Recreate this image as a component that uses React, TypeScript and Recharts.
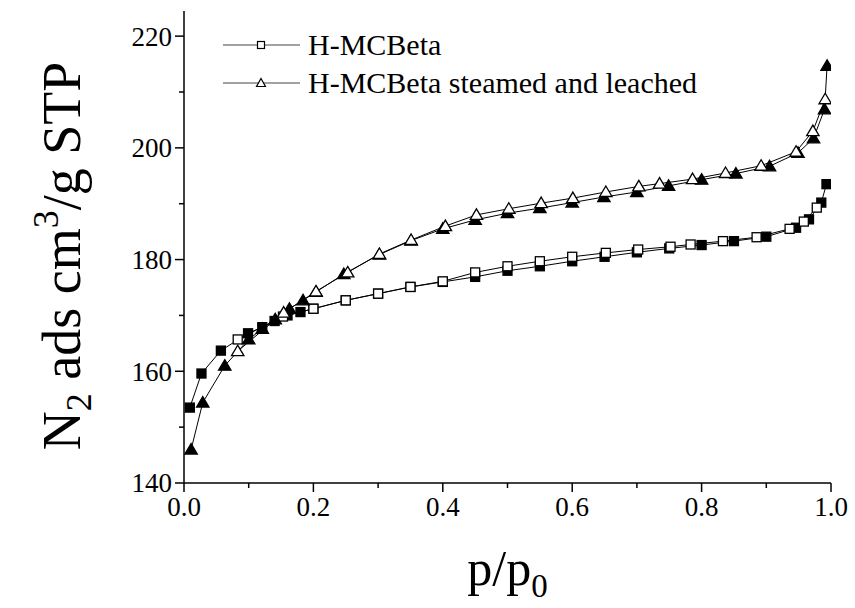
import React from "react";
import { LineChart, Line, XAxis, YAxis, Legend, Label } from "recharts";

const FONT = "'Liberation Serif', 'Times New Roman', serif";

// H-MCBeta, adsorption branch (filled squares)
const hAdsP = [0.009, 0.027, 0.057, 0.099, 0.121, 0.14, 0.16, 0.18, 0.2, 0.25, 0.3, 0.35, 0.4, 0.45, 0.5, 0.55, 0.6, 0.65, 0.7, 0.75, 0.8, 0.85, 0.9, 0.946, 0.966, 0.985, 0.993];
const hAdsV = [153.5, 159.6, 163.7, 166.8, 167.9, 169.0, 170.0, 170.6, 171.2, 172.7, 173.9, 175.1, 176.0, 176.9, 178.0, 178.8, 179.7, 180.5, 181.3, 182.0, 182.6, 183.3, 184.1, 185.7, 187.2, 190.2, 193.5];

// H-MCBeta, desorption branch (open squares)
const hDesP = [0.083, 0.153, 0.2, 0.25, 0.3, 0.35, 0.4, 0.45, 0.5, 0.55, 0.6, 0.652, 0.702, 0.752, 0.783, 0.833, 0.885, 0.936, 0.958, 0.978];
const hDesV = [165.7, 169.8, 171.2, 172.7, 173.9, 175.1, 176.1, 177.7, 178.8, 179.7, 180.5, 181.2, 181.8, 182.3, 182.7, 183.3, 184.0, 185.5, 186.8, 189.3];

// steamed and leached, adsorption (filled triangles)
const sAdsP = [0.011, 0.029, 0.063, 0.1, 0.121, 0.141, 0.163, 0.184, 0.204, 0.247, 0.302, 0.351, 0.4, 0.45, 0.5, 0.55, 0.6, 0.649, 0.7, 0.749, 0.8, 0.853, 0.905, 0.949, 0.973, 0.99, 0.994];
const sAdsV = [146.0, 154.4, 161.0, 165.7, 167.6, 169.3, 171.2, 172.7, 174.2, 177.4, 180.9, 183.4, 185.5, 187.1, 188.3, 189.2, 190.2, 191.2, 192.1, 193.2, 194.3, 195.4, 196.7, 199.1, 201.7, 206.9, 214.7];

// steamed and leached, desorption (open triangles)
const sDesP = [0.083, 0.154, 0.204, 0.253, 0.302, 0.351, 0.404, 0.452, 0.502, 0.552, 0.601, 0.652, 0.703, 0.735, 0.786, 0.837, 0.892, 0.946, 0.972, 0.991];
const sDesV = [163.6, 170.5, 174.3, 177.7, 181.0, 183.5, 186.0, 188.0, 189.1, 190.1, 191.0, 192.1, 193.1, 193.6, 194.4, 195.5, 196.8, 199.3, 203.0, 208.7];

const names = ["H-MCBeta", "H-MCBeta steamed and leached"];
const xTicks = [0, 0.1, 0.2, 0.3, 0.4, 0.5, 0.6, 0.7, 0.8, 0.9, 1.0];
const yTicks = [140, 150, 160, 170, 180, 190, 200, 210, 220];

const toPoints = (p: number[], v: number[]) => p.map((x, i) => ({ p: x, v: v[i] }));

const square = (filled: boolean) => (props: any) => {
  const { cx, cy, key } = props;
  if (cx == null || cy == null) return <g key={key} />;
  return (
    <rect key={key} x={cx - 4.5} y={cy - 4.5} width={9} height={9}
      fill={filled ? "#000" : "#fff"} stroke="#000" strokeWidth={1.3} />
  );
};

const triangle = (filled: boolean) => (props: any) => {
  const { cx, cy, key } = props;
  if (cx == null || cy == null) return <g key={key} />;
  return (
    <polygon key={key} points={`${cx},${cy - 6} ${cx + 6.2},${cy + 4.5} ${cx - 6.2},${cy + 4.5}`}
      fill={filled ? "#000" : "#fff"} stroke="#000" strokeWidth={1.3} strokeLinejoin="miter" />
  );
};

const isMajorX = (v: number) => Math.round(v * 10) % 2 === 0;

const BottomTick = (props: any) => {
  const { x, y, payload } = props;
  const major = isMajorX(payload.value);
  return (
    <g>
      <line x1={x} x2={x} y1={y} y2={y + (major ? 9 : 5)} stroke="#000" strokeWidth={1.5} />
      {major && (
        <text x={x} y={y + 33} textAnchor="middle" fontSize={27} fontFamily={FONT} fill="#000">
          {payload.value.toFixed(1)}
        </text>
      )}
    </g>
  );
};

const TopTick = (props: any) => {
  const { x, y, payload } = props;
  const major = isMajorX(payload.value);
  return <line x1={x} x2={x} y1={y} y2={y + (major ? 8 : 5)} stroke="#000" strokeWidth={1.5} />;
};

const LeftTick = (props: any) => {
  const { x, y, payload } = props;
  const major = payload.value % 20 === 0;
  return (
    <g>
      <line x1={x} x2={x - (major ? 9 : 5)} y1={y} y2={y} stroke="#000" strokeWidth={1.5} />
      {major && (
        <text x={x - 12} y={y} dy="0.35em" textAnchor="end" fontSize={27} fontFamily={FONT} fill="#000">
          {payload.value}
        </text>
      )}
    </g>
  );
};

const RightTick = (props: any) => {
  const { x, y, payload } = props;
  const major = payload.value % 20 === 0;
  return <line x1={x} x2={x - (major ? 8 : 5)} y1={y} y2={y} stroke="#000" strokeWidth={1.5} />;
};

const YTitle = (props: any) => {
  const { x, y, height } = props.viewBox;
  const tx = x - 44;
  const ty = y + height / 2 + 9;
  return (
    <text x={tx} y={ty} transform={`rotate(-90 ${tx} ${ty})`} textAnchor="middle"
      fontSize={54} fontFamily={FONT} fill="#000">
      N<tspan fontSize={36} dy={11}>2</tspan>
      <tspan dy={-11}> ads cm</tspan>
      <tspan fontSize={36} dy={-22}>3</tspan>
      <tspan dy={22}>/g STP</tspan>
    </text>
  );
};

const XTitle = (props: any) => {
  const { x, y, width } = props.viewBox;
  return (
    <text x={x + width / 2} y={y + 102} textAnchor="middle" fontSize={50} fontFamily={FONT} fill="#000">
      p/p<tspan fontSize={33} dy={12}>0</tspan>
    </text>
  );
};

const LegendBox = (props: any) => {
  const items = (props.payload || []).filter((e: any) => e.type !== "none");
  return (
    <div style={{ fontFamily: FONT, fontSize: 30, color: "#000" }}>
      {items.map((e: any, i: number) => (
        <div key={e.value} style={{ display: "flex", alignItems: "center", height: 38, whiteSpace: "nowrap" }}>
          <svg width={78} height={20} style={{ marginRight: 7 }}>
            <line x1={0} x2={77} y1={10} y2={10} stroke="#444" strokeWidth={1} />
            {i === 0 ? (
              <rect x={34.5} y={6.5} width={7} height={7} fill="#fff" stroke="#000" strokeWidth={1.2} />
            ) : (
              <polygon points="38,5.5 42.5,13.5 33.5,13.5" fill="#fff" stroke="#000" strokeWidth={1.2} />
            )}
          </svg>
          <span style={{ lineHeight: 1 }}>{e.value}</span>
        </div>
      ))}
    </div>
  );
};

export default function App() {
  return (
    <div style={{ position: "absolute", left: 0, top: 0, background: "#fff" }}>
      <LineChart width={855} height={608} margin={{ top: 11, right: 24, bottom: 85, left: 124 }}>
        <XAxis dataKey="p" type="number" domain={[0, 1]} ticks={xTicks} interval={0}
          height={40} tickSize={0} tickMargin={0} tickLine={false}
          axisLine={{ stroke: "#000", strokeWidth: 1.5 }} tick={<BottomTick />} allowDataOverflow>
          <Label content={<XTitle />} />
        </XAxis>
        <XAxis xAxisId="top" orientation="top" dataKey="p" type="number" domain={[0, 1]} ticks={xTicks}
          interval={0} height={0} tickSize={0} tickMargin={0} tickLine={false}
          axisLine={{ stroke: "#000", strokeWidth: 1.5 }} tick={<TopTick />} />
        <YAxis type="number" domain={[140, 224.5]} ticks={yTicks} interval={0} width={60}
          tickSize={0} tickMargin={0} tickLine={false} allowDataOverflow
          axisLine={{ stroke: "#000", strokeWidth: 1.5 }} tick={<LeftTick />}>
          <Label content={<YTitle />} />
        </YAxis>
        <YAxis yAxisId="right" orientation="right" type="number" domain={[140, 224.5]} ticks={yTicks}
          interval={0} width={0} tickSize={0} tickMargin={0} tickLine={false}
          axisLine={{ stroke: "#000", strokeWidth: 1.5 }} tick={<RightTick />} />
        <Legend layout="vertical" align="center" verticalAlign="middle" content={<LegendBox />}
          wrapperStyle={{ left: 223, top: 26, width: "auto" }} />
        <Line data={toPoints(hAdsP, hAdsV)} dataKey="v" name="H-MCBeta ads" legendType="none"
          stroke="#000" strokeWidth={1} dot={square(true)} activeDot={false} isAnimationActive={false} />
        <Line data={toPoints(hDesP, hDesV)} dataKey="v" name={names[0]}
          stroke="#000" strokeWidth={1} dot={square(false)} activeDot={false} isAnimationActive={false} />
        <Line data={toPoints(sAdsP, sAdsV)} dataKey="v" name="steamed ads" legendType="none"
          stroke="#000" strokeWidth={1} dot={triangle(true)} activeDot={false} isAnimationActive={false} />
        <Line data={toPoints(sDesP, sDesV)} dataKey="v" name={names[1]}
          stroke="#000" strokeWidth={1} dot={triangle(false)} activeDot={false} isAnimationActive={false} />
      </LineChart>
    </div>
  );
}
